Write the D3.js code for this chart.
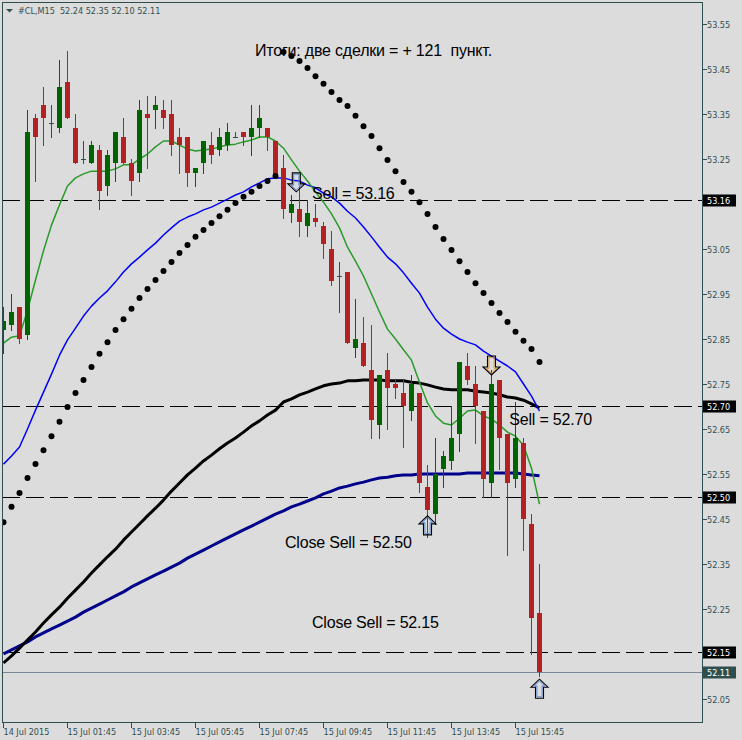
<!DOCTYPE html>
<html><head><meta charset="utf-8">
<script src="https://cdn.jsdelivr.net/npm/d3@7/dist/d3.min.js"></script>
<style>html,body{margin:0;padding:0;background:#dcdcdc;}svg{display:block}</style>
</head><body>
<svg id="chart" width="742" height="740"></svg>
<script>
// ---- data (M15 bars, index 0 = 14 Jul 23:45) ----
const open  = [52.87,52.88,52.92,52.86,53.34,53.37,53.33,53.32,53.42,53.32,53.25,53.24,53.27,53.19,53.24,53.30,53.24,53.22,53.35,53.36,53.36,53.35,53.30,53.30,53.22,53.24,53.28,53.27,53.28,53.30,53.31,53.30,53.32,53.32,53.29,53.23,53.13,53.14,53.10,53.12,53.10,53.05,52.99,53.00,52.83,52.84,52.78,52.66,52.78,52.75,52.73,52.69,52.73,52.52,52.46,52.56,52.58,52.64,52.79,52.75,52.69,52.53,52.76,52.64,52.54,52.62,52.44,52.24];
const high  = [52.92,52.95,52.92,53.36,53.35,53.41,53.37,53.47,53.49,53.35,53.29,53.29,53.28,53.27,53.31,53.34,53.25,53.38,53.39,53.39,53.38,53.38,53.32,53.30,53.23,53.29,53.31,53.32,53.33,53.31,53.31,53.37,53.37,53.32,53.29,53.26,53.17,53.19,53.16,53.15,53.11,53.09,53.02,53.00,52.94,52.90,52.88,52.77,52.82,52.76,52.76,52.77,52.73,52.57,52.63,52.60,52.70,52.80,52.82,52.79,52.69,52.78,52.76,52.64,52.71,52.63,52.46,52.35];
const low   = [52.82,52.87,52.84,52.85,53.20,53.28,53.30,53.31,53.34,53.24,53.24,53.24,53.14,53.17,53.20,53.24,53.17,53.20,53.23,53.32,53.32,53.26,53.22,53.19,53.19,53.22,53.24,53.26,53.27,53.30,53.28,53.26,53.30,53.27,53.21,53.12,53.11,53.08,53.08,53.10,53.03,52.97,52.91,52.84,52.81,52.79,52.63,52.63,52.65,52.72,52.61,52.67,52.51,52.41,52.44,52.52,52.56,52.60,52.75,52.62,52.50,52.50,52.56,52.37,52.52,52.38,52.15,52.10];
const close = [52.89,52.91,52.85,53.31,53.30,53.34,53.33,53.41,53.34,53.24,53.25,53.28,53.18,53.26,53.31,53.24,53.20,53.36,53.34,53.37,53.34,53.28,53.28,53.22,53.23,53.29,53.26,53.30,53.31,53.30,53.30,53.32,53.34,53.30,53.21,53.14,53.15,53.11,53.13,53.11,53.06,52.98,52.99,52.84,52.85,52.79,52.67,52.77,52.74,52.74,52.70,52.75,52.53,52.47,52.55,52.59,52.63,52.80,52.76,52.70,52.54,52.75,52.63,52.53,52.63,52.45,52.23,52.11];

const maFast = [52.841,52.854,52.857,52.914,52.981,53.046,53.103,53.148,53.190,53.208,53.217,53.223,53.223,53.223,53.228,53.237,53.237,53.250,53.261,53.277,53.290,53.290,53.281,53.272,53.268,53.270,53.272,53.277,53.281,53.283,53.288,53.292,53.299,53.299,53.290,53.274,53.248,53.223,53.201,53.177,53.154,53.128,53.097,53.054,53.023,52.990,52.950,52.910,52.872,52.850,52.826,52.803,52.754,52.708,52.679,52.663,52.659,52.674,52.690,52.692,52.679,52.672,52.659,52.643,52.634,52.614,52.563,52.483];
const maMid  = [52.572,52.590,52.610,52.650,52.692,52.732,52.772,52.814,52.848,52.874,52.901,52.923,52.941,52.957,52.977,52.999,53.017,53.032,53.048,53.063,53.081,53.097,53.112,53.121,53.128,53.137,53.143,53.152,53.161,53.170,53.177,53.188,53.197,53.206,53.208,53.208,53.203,53.201,53.192,53.186,53.174,53.166,53.152,53.134,53.119,53.099,53.077,53.054,53.032,53.017,52.997,52.974,52.952,52.921,52.894,52.874,52.861,52.850,52.843,52.837,52.823,52.812,52.801,52.790,52.777,52.750,52.723,52.690];
const maSlow = [52.130,52.146,52.163,52.181,52.199,52.219,52.237,52.254,52.274,52.292,52.310,52.330,52.348,52.366,52.383,52.403,52.421,52.439,52.457,52.474,52.492,52.512,52.530,52.548,52.563,52.579,52.592,52.606,52.619,52.630,52.643,52.657,52.668,52.681,52.692,52.710,52.717,52.726,52.732,52.739,52.746,52.750,52.752,52.757,52.757,52.759,52.759,52.759,52.757,52.757,52.757,52.754,52.752,52.748,52.743,52.739,52.737,52.737,52.737,52.734,52.732,52.730,52.726,52.721,52.719,52.714,52.706,52.697];
const maLong = [52.150,52.159,52.168,52.177,52.188,52.197,52.206,52.214,52.223,52.232,52.243,52.252,52.261,52.270,52.279,52.288,52.299,52.308,52.317,52.326,52.334,52.343,52.352,52.363,52.372,52.381,52.390,52.399,52.408,52.417,52.426,52.434,52.443,52.452,52.461,52.468,52.477,52.483,52.490,52.497,52.506,52.512,52.519,52.523,52.528,52.532,52.537,52.541,52.543,52.546,52.548,52.548,52.550,52.550,52.550,52.550,52.550,52.550,52.552,52.552,52.552,52.552,52.552,52.552,52.552,52.550,52.548,52.546];
const sar    = [52.443,52.477,52.508,52.541,52.572,52.603,52.634,52.666,52.699,52.730,52.759,52.788,52.817,52.843,52.870,52.894,52.917,52.941,52.961,52.981,53.001,53.021,53.041,53.059,53.077,53.092,53.108,53.123,53.137,53.152,53.166,53.177,53.190,53.201,53.212,53.488,53.479,53.468,53.452,53.434,53.417,53.399,53.381,53.368,53.346,53.323,53.301,53.274,53.248,53.223,53.199,53.177,53.154,53.128,53.099,53.072,53.048,53.023,52.999,52.974,52.952,52.930,52.908,52.888,52.866,52.846,52.828,52.799];

const xTickIdx    = [0,8,16,24,32,40,48,56,64];
const xTickLabels = ["14 Jul 2015","15 Jul 01:45","15 Jul 03:45","15 Jul 05:45","15 Jul 07:45","15 Jul 09:45","15 Jul 11:45","15 Jul 13:45","15 Jul 15:45"];
const yTicks      = [52.05,52.15,52.25,52.35,52.45,52.55,52.65,52.75,52.85,52.95,53.05,53.15,53.25,53.35,53.45,53.55];
const hLevels     = [53.16,52.70,52.50,52.155];
const hLabels     = ["53.16","52.70","52.50","52.15"];
const bidPrice    = 52.11;
const symbol      = "#CL,M15";

const arrowIdx    = [36.6,61,53,67];
const arrowPrice  = [53.177,52.770,52.457,52.094];
const arrowDir    = ["down","down","up","up"];

const noteText  = ["Итоги: две сделки = + 121  пункт.","Sell = 53.16","Sell = 52.70","Close Sell = 52.50","Close Sell = 52.15"];
const noteIdx   = [31.44,38.56,63.23,35.19,38.56];
const notePrice = [53.479,53.161,52.659,52.386,52.208];

// ---- layout ----
const svg = d3.select("#chart");
const L=2, T=2, R=702, B=722;
const x = d3.scaleLinear().domain([-0.1875, 87.3125]).range([L, R]);
const y = d3.scaleLinear().domain([52, 53.6]).range([721.5, 1.5]);
const axisCol = "#2f4f4f";

svg.append("rect").attr("width",742).attr("height",740).attr("fill","#dcdcdc");
svg.append("defs").append("clipPath").attr("id","pc").append("rect")
  .attr("x",L+1).attr("y",T+1).attr("width",R-L-1).attr("height",B-T-1);
const g = svg.append("g").attr("clip-path","url(#pc)");

// horizontal levels
g.selectAll("line.h").data(hLevels).join("line")
  .attr("x1",L).attr("x2",R)
  .attr("y1",d=>Math.round(y(d))+0.5).attr("y2",d=>Math.round(y(d))+0.5)
  .attr("stroke","#000").attr("stroke-width",1).attr("stroke-dasharray","18,6");
g.append("line").attr("x1",L).attr("x2",R)
  .attr("y1",Math.round(y(bidPrice))+0.5).attr("y2",Math.round(y(bidPrice))+0.5)
  .attr("stroke","#778899").attr("stroke-width",1);

// moving averages
const line = d3.line().x((d,i)=>x(i)).y(d=>y(d));
[[maLong,"#00008b",3],[maSlow,"#000000",3],[maMid,"#0000ff",1.5],[maFast,"#2a9a2a",1.5]].forEach(([arr,col,w])=>{
  g.append("path").datum(arr).attr("d",line).attr("fill","none")
   .attr("stroke",col).attr("stroke-width",w).attr("stroke-linejoin","round");
});

// candles
const bull="#006400", bear="#b22222", doji=axisCol;
const idx = d3.range(open.length);
const col = i => close[i]>open[i]?bull:(close[i]<open[i]?bear:doji);
g.selectAll("line.w").data(idx).join("line")
  .attr("x1",i=>x(i)).attr("x2",i=>x(i))
  .attr("y1",i=>Math.round(y(high[i]))).attr("y2",i=>Math.round(y(low[i]))+1)
  .attr("stroke",col).attr("stroke-width",1);
g.selectAll("rect.b").data(idx).join("rect")
  .attr("x",i=>x(i)-2.5).attr("width",5)
  .attr("y",i=>Math.round(y(Math.max(open[i],close[i]))))
  .attr("height",i=>Math.max(1,Math.round(y(Math.min(open[i],close[i])))-Math.round(y(Math.max(open[i],close[i])))))
  .attr("fill",col);

// parabolic SAR dots
g.selectAll("circle.s").data(sar).join("circle")
  .attr("cx",(d,i)=>x(i)).attr("cy",d=>y(d)).attr("r",3).attr("fill","#000");

// arrows
const outerPts=[[-4,-19],[4,-19],[4,-8],[8.5,-8],[0,0],[-8.5,-8],[-4,-8]];
const innerPts=[[-2.6,-17.6],[2.6,-17.6],[2.6,-6.6],[5.3,-6.6],[0,-1.9],[-5.3,-6.6],[-2.6,-6.6]];
const innerCol=["#5a8fd8","#d89a3a","#5a8fd8","#5a8fd8"];
arrowIdx.forEach((ai,k)=>{
  const cx=x(ai), ty=y(arrowPrice[k]), s=arrowDir[k]==="down"?1:-1;
  const pts=p=>p.map(([dx,dy])=>[cx+dx,ty+s*dy].join(",")).join(" ");
  g.append("polygon").attr("points",pts(innerPts)).attr("fill","none").attr("stroke",innerCol[k]).attr("stroke-width",1);
  g.append("polygon").attr("points",pts(outerPts)).attr("fill","none").attr("stroke","#000").attr("stroke-width",1.1);
});

// annotations
g.selectAll("text.n").data(noteText).join("text")
  .attr("x",(d,i)=>x(noteIdx[i])).attr("y",(d,i)=>y(notePrice[i]))
  .attr("font-family","'Liberation Sans', Arial, sans-serif").attr("font-size",16)
  .attr("letter-spacing","-0.2").style("white-space","pre").attr("fill","#000").text(d=>d);

// border
svg.append("rect").attr("x",L+0.5).attr("y",T+0.5).attr("width",R-L).attr("height",B-T)
  .attr("fill","none").attr("stroke",axisCol).attr("stroke-width",1);

// y axis
const fontAx="'DejaVu Sans Condensed','DejaVu Sans',sans-serif";
const ya = svg.append("g");
const boxed = hLevels.concat([bidPrice]);
yTicks.forEach(v=>{
  const yy=Math.round(y(v))+0.5;
  ya.append("line").attr("x1",R+1).attr("x2",R+5).attr("y1",yy).attr("y2",yy).attr("stroke",axisCol);
  // labels hidden under a price box are not drawn
  if (boxed.some(b=>Math.abs(y(b)-y(v))<11)) return;
  ya.append("text").attr("x",707).attr("y",yy+3.5).attr("font-family",fontAx).attr("font-size",9)
    .attr("fill",axisCol).text(v.toFixed(2));
});
hLevels.forEach((v,k)=>{
  const yy=Math.round(y(v))+0.5;
  ya.append("rect").attr("x",R+1).attr("y",yy-6).attr("width",33).attr("height",12).attr("fill","#000");
  ya.append("text").attr("x",707).attr("y",yy+3.5).attr("font-family",fontAx).attr("font-size",9)
    .attr("fill","#fff").text(hLabels[k]);
});
{
  const yy=Math.round(y(bidPrice))+0.5;
  ya.append("rect").attr("x",R+1).attr("y",yy-6).attr("width",33).attr("height",12).attr("fill",axisCol);
  ya.append("text").attr("x",707).attr("y",yy+3.5).attr("font-family",fontAx).attr("font-size",9)
    .attr("fill","#fff").text(bidPrice.toFixed(2));
}

// x axis
const xa = svg.append("g");
xTickIdx.forEach((ti,k)=>{
  const xx=x(ti);
  xa.append("line").attr("x1",xx).attr("x2",xx).attr("y1",B+1).attr("y2",B+6).attr("stroke",axisCol);
  xa.append("text").attr("x",xx).attr("y",735).attr("font-family",fontAx).attr("font-size",9)
    .attr("fill",axisCol).text(xTickLabels[k]);
});

// header
const last=open.length-1;
svg.append("polygon").attr("points","6,9 13,9 9.5,12.5").attr("fill",axisCol);
svg.append("text").attr("x",18).attr("y",14).attr("font-family",fontAx).attr("font-size",9)
  .attr("fill",axisCol).style("white-space","pre")
  .text(`${symbol}  ${open[last].toFixed(2)} ${high[last].toFixed(2)} ${low[last].toFixed(2)} ${close[last].toFixed(2)}`);
</script>
</body></html>
